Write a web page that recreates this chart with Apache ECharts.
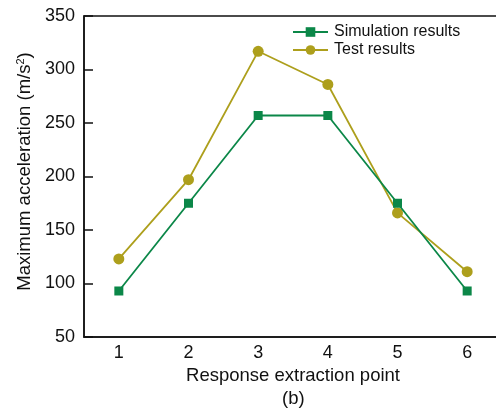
<!DOCTYPE html>
<html>
<head>
<meta charset="utf-8">
<script src="https://cdn.jsdelivr.net/npm/echarts@6/dist/echarts.min.js"></script>
<style>
  html, body { margin: 0; padding: 0; background: #fff; }
  #chart { width: 496px; height: 412px; }
</style>
</head>
<body>
<div id="chart"></div>
<script>
// Response extraction points along the x axis
const points = ['1', '2', '3', '4', '5', '6'];
// Maximum acceleration (m/s²) at each point
const simulationResults = [93, 175, 257, 257, 175, 93];
const testResults = [123, 197, 317, 286, 166, 111];
// Value axis range
const yMin = 50;
const yMax = 350;
const yStep = 50;

const FONT = '"Liberation Sans", Arial, sans-serif';
const INK = '#111';
const GREEN = '#0b8748';
const OLIVE = '#ad9f1c';

const chart = echarts.init(document.getElementById('chart'), null, { renderer: 'canvas' });

chart.setOption({
  animation: false,
  backgroundColor: '#fff',
  textStyle: { fontFamily: FONT, color: INK },
  grid: {
    left: 84, right: -6, top: 16, bottom: 75,
    outerBoundsMode: 'none',
    show: true, borderColor: INK, borderWidth: 1.5
  },
  legend: {
    left: 287, top: 19,
    orient: 'vertical',
    itemGap: 2,
    itemWidth: 35, itemHeight: 12,
    textStyle: { fontFamily: FONT, fontSize: 16, color: INK, padding: [0, 0, 0, 1] },
    data: ['Simulation results', 'Test results']
  },
  xAxis: {
    type: 'category',
    data: points,
    boundaryGap: true,
    name: 'Response extraction point',
    nameLocation: 'middle',
    nameGap: 26,
    nameTextStyle: { fontFamily: FONT, fontSize: 18.5, color: INK },
    axisLine: { lineStyle: { color: INK, width: 1.5 } },
    axisTick: { alignWithLabel: true, inside: true, length: 9, lineStyle: { color: INK, width: 1.5 } },
    axisLabel: { fontFamily: FONT, fontSize: 18, color: INK, margin: 7 },
    splitLine: { show: false }
  },
  yAxis: {
    type: 'value',
    min: yMin, max: yMax, interval: yStep,
    name: '{t|Maximum acceleration (m/s}{s|2}{t|)}',
    nameLocation: 'middle',
    nameGap: 48,
    nameTextStyle: {
      fontFamily: FONT, fontSize: 18.5, color: INK,
      padding: [0, 0, 0, 10],
      rich: {
        t: { fontFamily: FONT, fontSize: 18.5, color: INK },
        s: { fontFamily: FONT, fontSize: 11, color: INK, verticalAlign: 'top', padding: [0, 0, 7, 0] }
      }
    },
    axisLine: { show: true, lineStyle: { color: INK, width: 1.5 } },
    axisTick: { show: true, inside: true, length: 9, lineStyle: { color: INK, width: 1.5 } },
    axisLabel: { fontFamily: FONT, fontSize: 18, color: INK, margin: 9 },
    splitLine: { show: false }
  },
  graphic: [{
    type: 'text',
    left: 282, top: 389,
    style: { text: '(b)', fontFamily: FONT, fontSize: 18.5, fill: INK }
  }],
  series: [
    {
      name: 'Simulation results',
      type: 'line',
      data: simulationResults,
      symbol: 'rect',
      symbolSize: 9,
      lineStyle: { color: GREEN, width: 1.8 },
      itemStyle: { color: GREEN },
      z: 3
    },
    {
      name: 'Test results',
      type: 'line',
      data: testResults,
      symbol: 'circle',
      symbolSize: 11,
      lineStyle: { color: OLIVE, width: 1.8 },
      itemStyle: { color: OLIVE },
      z: 2
    }
  ]
});
</script>
</body>
</html>
